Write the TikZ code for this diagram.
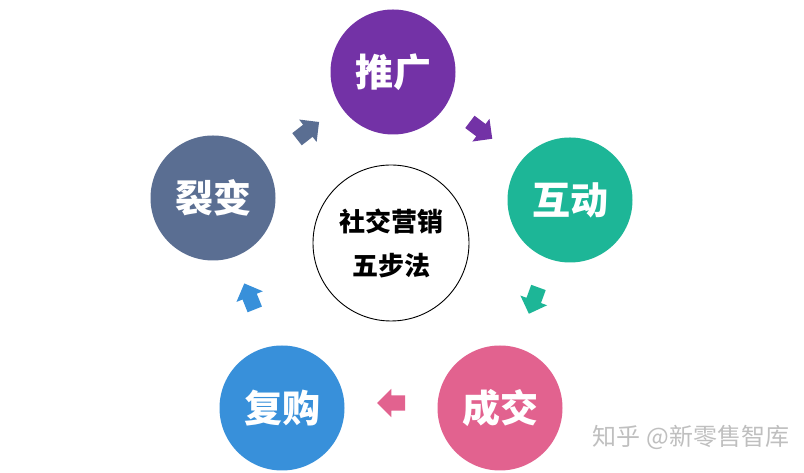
\documentclass[tikz,border=0pt]{standalone}
\usepackage{fontspec}
\newfontfamily\cjk{Noto Sans CJK SC}
\usetikzlibrary{shapes.arrows}
\definecolor{cpurple}{HTML}{7332A6}
\definecolor{cteal}{HTML}{1DB697}
\definecolor{cpink}{HTML}{E2628F}
\definecolor{cblue}{HTML}{3890DA}
\definecolor{cslate}{HTML}{5A6E92}
\begin{document}
\begin{tikzpicture}[x=1pt,y=1pt,
		stage/.style={circle,fill=#1,minimum size=125pt,inner sep=0,text=white,font=\cjk\bfseries\fontsize{38}{38}\selectfont},
		flow/.style={single arrow,fill=#1,draw=none,inner sep=7.5pt,minimum height=28pt,single arrow head extend=6.5pt,anchor=center}]
		\useasboundingbox (0,0) rectangle (804,473);
		\fill[white] (0,0) rectangle (804,473);
		% centre circle
		\node[circle,draw=black,line width=0.9pt,minimum size=156pt,align=center,font=\cjk\bfseries\fontsize{26}{44}\selectfont] (hub) at (391,230) {社交营销\\五步法};
		% five stages
		\node[stage=cpurple] (tuiguang) at (393,401) {推广};
		\node[stage=cteal] (hudong) at (570,273) {互动};
		\node[stage=cpink] (chengjiao) at (500,65) {成交};
		\node[stage=cblue] (fugou) at (282,65) {复购};
		\node[stage=cslate] (liebian) at (213,275) {裂变};
		% small arrows between stages
		\node[flow=cslate,rotate=38] (a1) at (305,340) {};
		\node[flow=cpurple,rotate=-37] (a2) at (478,345) {};
		\node[flow=cteal,rotate=-110] (a3) at (535,176) {};
		\node[flow=cpink,rotate=180] (a4) at (395,70) {};
		\node[flow=cblue,rotate=112] (a5) at (251,173) {};
		% watermark
		\node[text=black!25,font=\cjk\fontsize{24}{24}\selectfont] (mark) at (691,36) {知乎 @新零售智库};
	\end{tikzpicture}
\end{document}
